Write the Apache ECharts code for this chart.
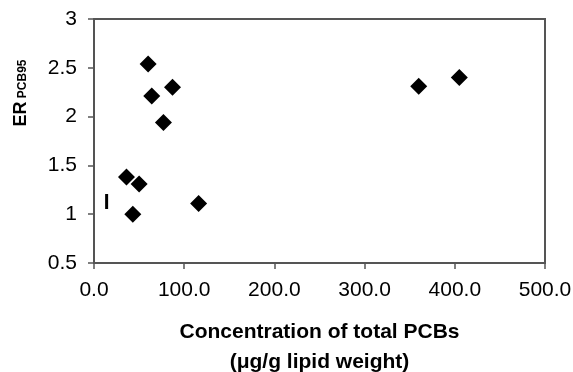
<!DOCTYPE html>
<html>
<head>
<meta charset="utf-8">
<script src="https://cdn.jsdelivr.net/npm/echarts@6/dist/echarts.min.js"></script>
<style>
  html, body { margin: 0; padding: 0; background: #fff; }
  #chart { width: 573px; height: 372px; }
</style>
</head>
<body>
<div id="chart"></div>
<script>
// concentration of total PCBs (ug/g lipid weight) vs ER PCB95
var concValues = [60, 64, 87, 77, 36, 50, 43, 116, 360, 405];
var erValues = [2.54, 2.21, 2.30, 1.94, 1.38, 1.31, 1.00, 1.11, 2.31, 2.40];
// the thin vertical mark near the y axis
var markConc = [14];
var markEr = [1.13];

var xTicks = [0, 100, 200, 300, 400, 500];
var yTicks = [0.5, 1, 1.5, 2, 2.5, 3];

function pairs(xs, ys) {
    var out = [];
    for (var i = 0; i < xs.length; i++) {
        out.push([xs[i], ys[i]]);
    }
    return out;
}

var chart = echarts.init(document.getElementById('chart'));
var font = 'Liberation Sans, Arial, sans-serif';

var option = {
    animation: false,
    grid: {
        left: 94, right: 28, top: 19, bottom: 109,
        outerBoundsMode: 'none',
        containLabel: false,
        show: true,
        borderColor: '#555',
        borderWidth: 2
    },
    xAxis: {
        type: 'value',
        min: xTicks[0],
        max: xTicks[xTicks.length - 1],
        interval: 100,
        splitLine: { show: false },
        axisLine: { lineStyle: { color: '#555', width: 1.5 } },
        axisTick: { show: true, length: 6, lineStyle: { color: '#555', width: 1.5 } },
        axisLabel: {
            color: '#000', fontFamily: font, fontSize: 21, margin: 17,
            formatter: function (v) { return v.toFixed(1); }
        },
        name: 'Concentration of total PCBs\n(\u03bcg/g lipid weight)',
        nameLocation: 'middle',
        nameGap: 54,
        nameTextStyle: {
            color: '#000', fontFamily: font, fontSize: 21, fontWeight: 'bold', lineHeight: 30
        }
    },
    yAxis: {
        type: 'value',
        min: yTicks[0],
        max: yTicks[yTicks.length - 1],
        interval: 0.5,
        splitLine: { show: false },
        axisLine: { show: true, lineStyle: { color: '#555', width: 1.5 } },
        axisTick: { show: true, length: 6, lineStyle: { color: '#555', width: 1.5 } },
        axisLabel: { color: '#000', fontFamily: font, fontSize: 21, margin: 17 }
    },
    graphic: [{
        type: 'text',
        x: 21,
        y: 93,
        rotation: Math.PI / 2,
        style: {
            text: '{a|ER} {b|PCB95}',
            align: 'center',
            verticalAlign: 'middle',
            rich: {
                a: { fontFamily: font, fontSize: 18, fontWeight: 'bold', fill: '#000' },
                b: { fontFamily: font, fontSize: 12, fontWeight: 'bold', fill: '#000', padding: [4, 0, 0, 0] }
            }
        }
    }],
    series: [{
        type: 'scatter',
        symbol: 'diamond',
        symbolSize: 17,
        itemStyle: { color: '#000', opacity: 1 },
        data: pairs(concValues, erValues)
    }, {
        type: 'scatter',
        symbol: 'rect',
        symbolSize: [3, 15],
        itemStyle: { color: '#000', opacity: 1 },
        data: pairs(markConc, markEr)
    }]
};

chart.setOption(option);
</script>
</body>
</html>
